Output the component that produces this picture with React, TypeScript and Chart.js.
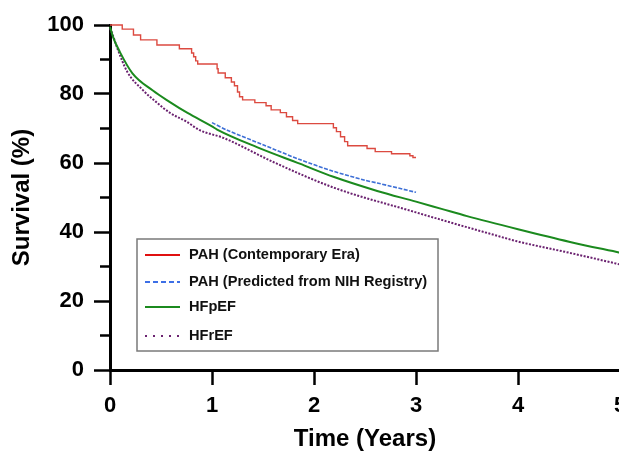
import React, { useEffect, useRef } from "react";
import { Chart, registerables } from "chart.js";

Chart.register(...registerables);

const FONT = '"Liberation Sans", Arial, Helvetica, sans-serif';

// PAH (Contemporary Era) – Kaplan-Meier steps (time in years, survival %)
const pahContempTime = [0, 0.12, 0.23, 0.3, 0.46, 0.68, 0.8, 0.82, 0.84, 0.86, 1.05, 1.06, 1.13, 1.19, 1.22, 1.25, 1.27, 1.3, 1.42, 1.53, 1.58, 1.67, 1.73, 1.79, 1.84, 2.19, 2.22, 2.26, 2.3, 2.33, 2.52, 2.6, 2.76, 2.94, 2.97, 3.0];
const pahContempSurv = [100, 98.8, 97.1, 95.7, 94.2, 93.1, 91.9, 90.8, 89.6, 88.7, 87.3, 86.1, 84.7, 83.5, 82.4, 80.6, 79.2, 78.3, 77.5, 76.6, 75.4, 74.6, 73.4, 72.3, 71.4, 70.2, 69.1, 67.6, 66.2, 65.0, 64.2, 63.3, 62.7, 62.1, 61.6, 61.6];

// PAH (Predicted from NIH Registry)
const pahPredTime = [1.0, 1.15, 1.5, 1.86, 2.19, 2.5, 2.62, 3.0];
const pahPredSurv = [71.7, 69.5, 65.3, 61.0, 57.6, 55.0, 54.2, 51.5];

// HFpEF
const hfpefTime = [0, 0.03, 0.1, 0.22, 0.42, 0.58, 0.76, 1.0, 1.05, 1.44, 1.86, 2.19, 2.62, 3.0, 3.25, 3.5, 4.0, 4.5, 5.0];
const hfpefSurv = [99.5, 96.5, 92.0, 86.0, 81.0, 77.8, 74.5, 70.6, 69.7, 64.6, 59.8, 56.0, 51.9, 48.8, 46.7, 44.6, 40.8, 37.2, 34.0];

// HFrEF
const hfrefTime = [0, 0.02, 0.07, 0.17, 0.32, 0.46, 0.59, 0.75, 0.88, 1.11, 1.6, 2.19, 3.0, 3.24, 3.82, 3.99, 4.5, 5.0];
const hfrefSurv = [99.0, 97.7, 93.4, 86.4, 81.2, 77.5, 74.5, 72.0, 69.5, 67.3, 60.3, 52.9, 45.7, 43.6, 38.7, 37.3, 34.0, 30.6];

const seriesLabels = [
  "PAH (Contemporary Era)",
  "PAH (Predicted from NIH Registry)",
  "HFpEF",
  "HFrEF",
];

const xTickValues = [0, 1, 2, 3, 4, 5];
const yMajorTicks = [0, 20, 40, 60, 80, 100];
const yMinorTicks = [10, 30, 50, 70, 90];

const toPoints = (t: number[], s: number[]) => t.map((x, i) => ({ x, y: s[i] }));

const minorTickPlugin = {
  id: "minorTicks",
  afterDraw(chart: any) {
    const { ctx, chartArea, scales } = chart;
    const y = scales.y;
    ctx.save();
    ctx.strokeStyle = "#000";
    ctx.lineWidth = 2.5;
    yMinorTicks.forEach((v) => {
      const py = y.getPixelForValue(v);
      ctx.beginPath();
      ctx.moveTo(chartArea.left - 10, py);
      ctx.lineTo(chartArea.left, py);
      ctx.stroke();
    });
    ctx.restore();
  },
};

const boxLegendPlugin = {
  id: "boxLegend",
  afterDraw(chart: any) {
    const { ctx, chartArea } = chart;
    const x0 = chartArea.left + 27;
    const y0 = chartArea.top + 214;
    const w = 301;
    const h = 112;
    ctx.save();
    ctx.fillStyle = "#fff";
    ctx.fillRect(x0, y0, w, h);
    ctx.strokeStyle = "#7a7a7a";
    ctx.lineWidth = 1.5;
    ctx.strokeRect(x0, y0, w, h);
    const rows = [16, 43, 68, 97];
    chart.data.datasets.forEach((ds: any, i: number) => {
      const ry = y0 + rows[i];
      ctx.beginPath();
      ctx.strokeStyle = ds.legendColor || ds.borderColor;
      ctx.lineWidth = 2;
      ctx.setLineDash(ds.legendDash || []);
      ctx.moveTo(x0 + 8, ry);
      ctx.lineTo(x0 + 43, ry);
      ctx.stroke();
      ctx.setLineDash([]);
      ctx.fillStyle = "#111";
      ctx.font = `bold 14.6px ${FONT}`;
      ctx.textBaseline = "middle";
      ctx.textAlign = "left";
      ctx.fillText(ds.label, x0 + 52, ry);
    });
    ctx.restore();
  },
};

export default function App() {
  const ref = useRef<HTMLCanvasElement | null>(null);

  useEffect(() => {
    if (!ref.current) return;
    const chart = new Chart(ref.current, {
      type: "line",
      data: {
        datasets: [
          {
            label: seriesLabels[0],
            data: toPoints(pahContempTime, pahContempSurv),
            borderColor: "#dc4a40",
            legendColor: "#e01010",
            borderWidth: 1.4,
            stepped: true,
            pointRadius: 0,
            clip: 5,
          } as any,
          {
            label: seriesLabels[1],
            data: toPoints(pahPredTime, pahPredSurv),
            borderColor: "#3d6fd6",
            legendColor: "#3d6fe6",
            legendDash: [5, 3],
            borderWidth: 1.6,
            borderDash: [4, 1.5],
            pointRadius: 0,
            tension: 0.3,
            clip: 5,
          } as any,
          {
            label: seriesLabels[2],
            data: toPoints(hfpefTime, hfpefSurv),
            borderColor: "#1b8a1e",
            borderWidth: 2,
            pointRadius: 0,
            cubicInterpolationMode: "monotone",
            clip: 5,
          } as any,
          {
            label: seriesLabels[3],
            data: toPoints(hfrefTime, hfrefSurv),
            borderColor: "#6b2270",
            legendDash: [2, 6],
            borderWidth: 2,
            borderDash: [2, 1.5],
            pointRadius: 0,
            cubicInterpolationMode: "monotone",
            clip: 5,
          } as any,
        ],
      },
      options: {
        animation: false,
        responsive: false,
        maintainAspectRatio: false,
        layout: { padding: { left: 0, top: 25, right: 20, bottom: 0 } },
        plugins: {
          legend: { display: false },
          tooltip: { enabled: false },
        },
        scales: {
          x: {
            type: "linear",
            min: 0,
            max: 5,
            afterBuildTicks: (s: any) => {
              s.ticks = xTickValues.map((v) => ({ value: v }));
            },
            afterFit: (s: any) => {
              s.height = 84;
            },
            ticks: {
              font: { family: FONT, size: 22, weight: "bold" },
              color: "#000",
              padding: 8,
              maxRotation: 0,
              autoSkip: false,
            },
            grid: {
              drawOnChartArea: false,
              tickLength: 15,
              tickWidth: 2.5,
              tickColor: "#000",
            },
            border: { color: "#000", width: 3 },
            title: {
              display: true,
              text: "Time (Years)",
              color: "#000",
              font: { family: FONT, size: 24, weight: "bold" },
              padding: { top: 0, bottom: 0 },
            },
          },
          y: {
            type: "linear",
            min: 0,
            max: 100,
            afterBuildTicks: (s: any) => {
              s.ticks = yMajorTicks.map((v) => ({ value: v }));
            },
            afterFit: (s: any) => {
              s.width = 110;
            },
            ticks: {
              font: { family: FONT, size: 22, weight: "bold" },
              color: "#000",
              padding: 10,
            },
            grid: {
              drawOnChartArea: false,
              tickLength: 16,
              tickWidth: 2.5,
              tickColor: "#000",
            },
            border: { color: "#000", width: 3 },
            title: {
              display: true,
              text: "Survival (%)",
              color: "#000",
              font: { family: FONT, size: 24, weight: "bold" },
              padding: { top: 8, bottom: 0 },
            },
          },
        },
      } as any,
      plugins: [minorTickPlugin, boxLegendPlugin],
    });
    return () => chart.destroy();
  }, []);

  return (
    <div
      style={{
        position: "fixed",
        left: 0,
        top: 0,
        width: 619,
        height: 454,
        overflow: "hidden",
        background: "#fff",
      }}
    >
      <canvas ref={ref} width={640} height={454} style={{ display: "block" }} />
    </div>
  );
}
